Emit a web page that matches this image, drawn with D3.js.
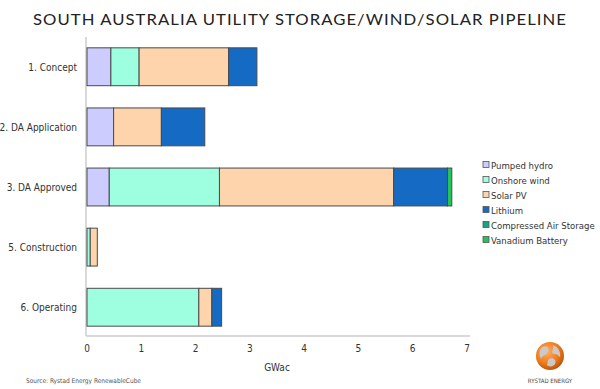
<!DOCTYPE html>
<html>
<head>
<meta charset="utf-8">
<script src="https://cdnjs.cloudflare.com/ajax/libs/d3/7.8.5/d3.min.js"></script>
<style>
body { margin: 0; background: #fff; }
svg { font-family: "DejaVu Sans Condensed", "DejaVu Sans", Verdana, sans-serif; }
</style>
</head>
<body>
<svg width="600" height="389"></svg>
<script>
var svg = d3.select('svg');

// data (GWac)
var stages = ["1. Concept", "2. DA Application", "3. DA Approved", "5. Construction", "6. Operating"];
var techs = ["Pumped hydro", "Onshore wind", "Solar PV", "Lithium", "Compressed Air Storage", "Vanadium Battery"];
var pumpedHydro = [0.44, 0.49, 0.41, 0, 0];
var onshoreWind = [0.52, 0, 2.03, 0.06, 2.06];
var solarPV = [1.65, 0.88, 3.21, 0.13, 0.24];
var lithium = [0.52, 0.80, 0.99, 0, 0.18];
var compressedAir = [0, 0, 0, 0, 0];
var vanadium = [0, 0, 0.08, 0, 0];
var xTicks = [0, 1, 2, 3, 4, 5, 6, 7];

var colors = ["#ccccff", "#9dffe0", "#fdd4ab", "#156bc4", "#1aa383", "#23c25a"];
var series = [pumpedHydro, onshoreWind, solarPV, lithium, compressedAir, vanadium];

var rows = stages.map(function(s, i) {
  var r = { stage: s };
  techs.forEach(function(t, j) { r[t] = series[j][i]; });
  return r;
});
var stacked = d3.stack().keys(techs)(rows);

var x = d3.scaleLinear().domain([0, 7]).range([87, 467]);
var y = d3.scaleBand().domain(stages).range([37, 337]).paddingInner(0.37).paddingOuter(0.18);
var color = d3.scaleOrdinal().domain(techs).range(colors);

// title
svg.append('text')
  .text('SOUTH AUSTRALIA UTILITY STORAGE/WIND/SOLAR PIPELINE')
  .attr('x', 33).attr('y', 25)
  .attr('textLength', 534).attr('lengthAdjust', 'spacingAndGlyphs')
  .style('font-family', 'Lato, "DejaVu Sans", sans-serif')
  .style('font-size', '16px')
  .style('letter-spacing', '1px')
  .attr('fill', '#222');

// axis lines
svg.append('line')
  .attr('x1', x(0) - 1).attr('x2', x(0) - 1)
  .attr('y1', 37).attr('y2', 336)
  .attr('stroke', '#ccc').attr('stroke-width', 1.5);
svg.append('line')
  .attr('x1', x(0) - 1).attr('x2', x(7) + 3)
  .attr('y1', 336).attr('y2', 336)
  .attr('stroke', '#ccc').attr('stroke-width', 1.5);

// bars
svg.append('g').selectAll('g')
  .data(stacked)
  .enter().append('g')
  .attr('fill', function(d) { return color(d.key); })
  .selectAll('rect')
  .data(function(d) { return d; })
  .enter().append('rect')
  .filter(function(d) { return d[1] - d[0] > 0; })
  .attr('x', function(d) { return x(d[0]); })
  .attr('y', function(d) { return y(d.data.stage); })
  .attr('width', function(d) { return x(d[1]) - x(d[0]); })
  .attr('height', y.bandwidth())
  .attr('stroke', '#4a4a4a')
  .attr('stroke-width', 1);

// category labels
svg.append('g').selectAll('text')
  .data(stages)
  .enter().append('text')
  .text(function(d) { return d; })
  .attr('x', 77)
  .attr('y', function(d) { return y(d) + y.bandwidth() / 2 + 4; })
  .attr('text-anchor', 'end')
  .style('font-size', '10px')
  .attr('fill', '#333');

// x tick labels
svg.append('g').selectAll('text')
  .data(xTicks)
  .enter().append('text')
  .text(function(d) { return d; })
  .attr('x', function(d) { return x(d); })
  .attr('y', 352)
  .attr('text-anchor', 'middle')
  .style('font-size', '10px')
  .attr('fill', '#333');

svg.append('text')
  .text('GWac')
  .attr('x', 277).attr('y', 371)
  .attr('text-anchor', 'middle')
  .style('font-size', '10px')
  .attr('fill', '#333');

// legend
var legend = svg.append('g').selectAll('g')
  .data(techs)
  .enter().append('g')
  .attr('transform', function(d, i) { return 'translate(483,' + (165 + i * 15) + ')'; });
legend.append('rect')
  .attr('x', 0).attr('y', -3.5)
  .attr('width', 6).attr('height', 6)
  .attr('fill', function(d) { return color(d); })
  .attr('stroke', '#555').attr('stroke-width', 0.8);
legend.append('text')
  .text(function(d) { return d; })
  .attr('x', 8).attr('y', 3.5)
  .style('font-size', '9.5px')
  .attr('fill', '#333');

// source
svg.append('text')
  .text('Source: Rystad Energy RenewableCube')
  .attr('x', 26).attr('y', 383)
  .style('font-size', '6.5px')
  .attr('fill', '#555');

// logo
var grad = svg.append('defs').append('radialGradient')
  .attr('id', 'lg').attr('cx', '40%').attr('cy', '35%').attr('r', '70%');
grad.append('stop').attr('offset', '0%').attr('stop-color', '#ffb060');
grad.append('stop').attr('offset', '60%').attr('stop-color', '#f07a1c');
grad.append('stop').attr('offset', '100%').attr('stop-color', '#b0520f');
var logo = svg.append('g').attr('transform', 'translate(550,356)');
logo.append('circle').attr('r', 14).attr('fill', 'url(#lg)');
logo.append('path')
  .attr('d', 'M-9,-8 C-4,-11 0,-9 -2,-4 C-4,0 -8,-1 -9,3 C-11,0 -11,-5 -9,-8 Z M3,-11 C8,-9 11,-4 10,1 C8,-1 5,-3 3,-2 C1,-5 4,-7 3,-11 Z M-1,3 C3,1 7,4 5,8 C3,11 -1,11 -3,9 C-2,7 -3,5 -1,3 Z')
  .attr('fill', '#c9c9c9');
svg.append('text')
  .text('RYSTAD ENERGY')
  .attr('x', 550).attr('y', 383)
  .attr('text-anchor', 'middle')
  .style('font-size', '6px')
  .attr('fill', '#444');
</script>
</body>
</html>
